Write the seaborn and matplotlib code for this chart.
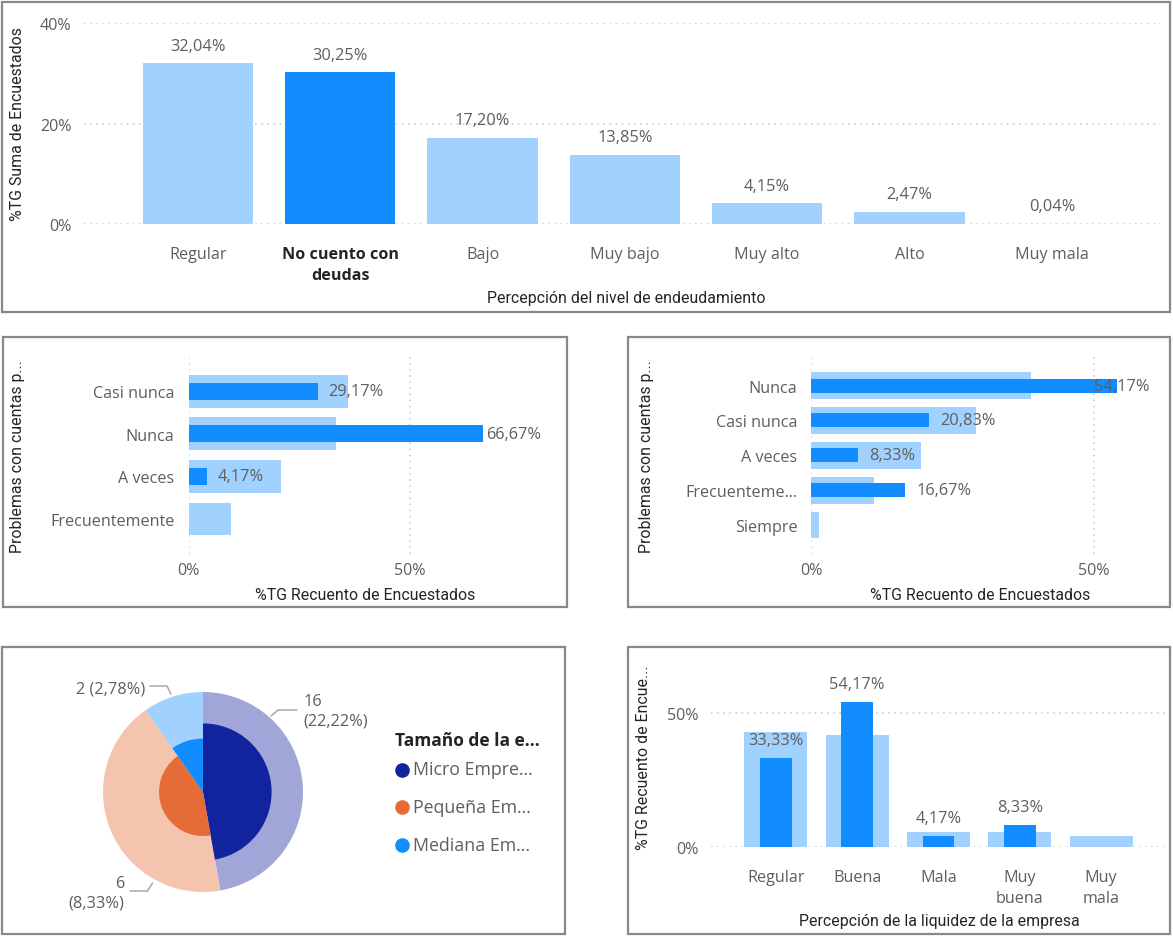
import numpy as np
import pandas as pd
import matplotlib
matplotlib.use("Agg")
import matplotlib.pyplot as plt
import seaborn as sns
from matplotlib.lines import Line2D
from matplotlib.patches import Rectangle

# ---------------- data ----------------
endeud_cats = ["Regular", "No cuento con\ndeudas", "Bajo", "Muy bajo", "Muy alto", "Alto", "Muy mala"]
endeud_vals = [32.04, 30.25, 17.20, 13.85, 4.15, 2.47, 0.04]
endeud_selected = "No cuento con\ndeudas"

prob1_cats = ["Casi nunca", "Nunca", "A veces", "Frecuentemente"]
prob1_total = [36.11, 33.33, 20.83, 9.72]
prob1_sel = [29.17, 66.67, 4.17, np.nan]

prob2_cats = ["Nunca", "Casi nunca", "A veces", "Frecuenteme...", "Siempre"]
prob2_total = [38.89, 29.17, 19.44, 11.11, 1.39]
prob2_sel = [54.17, 20.83, 8.33, 16.67, np.nan]

liq_cats = ["Regular", "Buena", "Mala", "Muy\nbuena", "Muy\nmala"]
liq_total = [43.06, 41.67, 5.56, 5.56, 4.17]
liq_sel = [33.33, 54.17, 4.17, 8.33, np.nan]

tam_cats = ["Micro Empre...", "Pequeña Em...", "Mediana Em..."]
tam_total = [34, 31, 7]
tam_sel = [16, 6, 2]
tam_count_all = 72

# ---------------- style ----------------
DARK = "#118DFF"
LIGHT = "#A0D1FF"
PIE_DARK = ["#12239E", "#E66C37", "#118DFF"]
PIE_LIGHT = ["#A0A7D8", "#F5C4AF", "#A0D1FF"]
TXT = "#605E5C"
TITLE = "#252423"
GRID = "#C8C6C4"
FONT = "Open Sans"
TFONT = "Roboto"
TICK = 11.6
VAL = 11.8
AX_T = 11.4

sns.set_theme(style="white")
plt.rcParams["font.family"] = [FONT, "DejaVu Sans"]

W, H = 1173, 937
fig = plt.figure(figsize=(W / 100, H / 100), dpi=100)


def rect(l, t, r, b):
    return [l / W, 1 - b / H, (r - l) / W, (b - t) / H]


def fx(x):
    return x / W


def fy(y):
    return 1 - y / H


def pct(v):
    return f"{v:.2f}%".replace(".", ",")


def style_axes(ax):
    for s in ax.spines.values():
        s.set_visible(False)
    ax.set_xlabel("")
    ax.set_ylabel("")
    ax.set_axisbelow(True)


def grid_kw():
    return dict(color=GRID, linestyle=(0, (1, 3)), linewidth=1.1)


BAR_KW = dict(saturation=1, errorbar=None, linewidth=0)

# panel borders
for (l, t, r, b) in [(2, 3, 1170, 313), (3, 338, 567, 608), (628, 338, 1170, 608),
                     (2, 648, 565, 935), (628, 648, 1170, 935)]:
    fig.add_artist(Rectangle((fx(l), fy(b)), (r - l) / W, (b - t) / H, transform=fig.transFigure,
                             fill=False, edgecolor="#8A8886", linewidth=1.6))

# ---------------- top chart ----------------
ax1 = fig.add_axes(rect(84, 24.3, 1160, 225))
df1 = pd.DataFrame({"cat": endeud_cats, "val": endeud_vals})
pal1 = {c: (DARK if c == endeud_selected else LIGHT) for c in endeud_cats}
sns.barplot(data=df1, x="cat", y="val", hue="cat", palette=pal1, order=endeud_cats,
            width=0.775, legend=False, ax=ax1, **BAR_KW)
style_axes(ax1)
ax1.set_xlim(-0.8, 6.76)
ax1.set_ylim(0, 40)
ax1.set_yticks([0, 20, 40])
ax1.set_yticklabels(["0%", "20%", "40%"])
ax1.yaxis.grid(True, **grid_kw())
ax1.xaxis.grid(False)
ax1.set_xticks(range(len(endeud_cats)))
ax1.set_xticklabels(endeud_cats, linespacing=1.4)
ax1.tick_params(axis="x", length=0, pad=16, labelsize=TICK, labelcolor=TXT)
ax1.tick_params(axis="y", length=0, pad=9, labelsize=TICK, labelcolor=TXT)
for lab in ax1.get_xticklabels():
    if lab.get_text() == endeud_selected:
        lab.set_fontweight("bold")
        lab.set_color(TITLE)
for i, v in enumerate(endeud_vals):
    ax1.annotate(pct(v), (i, v), xytext=(0, 12.5), textcoords="offset points",
                 ha="center", va="center", fontsize=VAL, color=TXT)
fig.text(fx(18), fy(124), "%TG Suma de Encuestados", rotation=90, ha="center", va="center",
         fontsize=AX_T, color=TITLE, family=TFONT)
fig.text(fx(626), fy(299), "Percepción del nivel de endeudamiento", ha="center", va="center",
         fontsize=AX_T, color=TITLE, family=TFONT)


# ---------------- horizontal overlay bar charts ----------------
def hbar(box, cats, total, sel, xmax, ylim, xlab_x, ylab_x):
    ax = fig.add_axes(rect(*box))
    df = pd.DataFrame({"cat": cats, "total": total, "sel": sel})
    sns.barplot(data=df, y="cat", x="total", order=cats, color=LIGHT, width=0.77,
                orient="h", ax=ax, **BAR_KW)
    sns.barplot(data=df.dropna(subset=["sel"]), y="cat", x="sel", order=cats, color=DARK,
                width=0.40, orient="h", ax=ax, **BAR_KW)
    style_axes(ax)
    ax.set_xlim(0, xmax)
    ax.set_ylim(*ylim)
    ax.set_xticks([0, 50])
    ax.set_xticklabels(["0%", "50%"])
    ax.xaxis.grid(True, **grid_kw())
    ax.yaxis.grid(False)
    ax.tick_params(axis="x", length=0, pad=6, labelsize=TICK, labelcolor=TXT)
    ax.tick_params(axis="y", length=0, pad=10, labelsize=TICK, labelcolor=TXT)
    for i, v in enumerate(sel):
        if np.isnan(v):
            continue
        if v > xmax * 0.82:
            ax.annotate(pct(v), (xmax, i), xytext=(0, 0), textcoords="offset points",
                        ha="right", va="center", fontsize=VAL, color=TXT, annotation_clip=False)
        else:
            ax.annotate(pct(v), (v, i), xytext=(8, 0), textcoords="offset points",
                        ha="left", va="center", fontsize=VAL, color=TXT)
    fig.text(fx(xlab_x), fy(595), "%TG Recuento de Encuestados", ha="center", va="center",
             fontsize=AX_T, color=TITLE, family=TFONT)
    fig.text(fx(ylab_x), fy((box[1] + box[3]) / 2), "Problemas con cuentas p...", rotation=90,
             ha="center", va="center", fontsize=AX_T, color=TITLE, family=TFONT)
    return ax


hbar((188.5, 358, 541, 555), prob1_cats, prob1_total, prob1_sel, 79.7, (3.82, -0.8), 365, 18)
hbar((811.4, 358, 1149.5, 555), prob2_cats, prob2_total, prob2_sel, 59.9, (4.83, -0.82), 980, 646)

# ---------------- bottom right: liquidity ----------------
ax4 = fig.add_axes(rect(710.7, 668, 1167, 848))
df4 = pd.DataFrame({"cat": liq_cats, "total": liq_total, "sel": liq_sel})
sns.barplot(data=df4, x="cat", y="total", order=liq_cats, color=LIGHT, width=0.775,
            ax=ax4, **BAR_KW)
sns.barplot(data=df4.dropna(subset=["sel"]), x="cat", y="sel", order=liq_cats, color=DARK,
            width=0.39, ax=ax4, **BAR_KW)
style_axes(ax4)
ax4.set_xlim(-0.8, 4.81)
ax4.set_ylim(0, 67.2)
ax4.set_yticks([0, 50])
ax4.set_yticklabels(["0%", "50%"])
ax4.yaxis.grid(True, **grid_kw())
ax4.xaxis.grid(False)
ax4.set_xticks(range(len(liq_cats)))
ax4.set_xticklabels(liq_cats, linespacing=1.4)
ax4.tick_params(axis="x", length=0, pad=16, labelsize=TICK, labelcolor=TXT)
ax4.tick_params(axis="y", length=0, pad=9, labelsize=TICK, labelcolor=TXT)
for i, v in enumerate(liq_sel):
    if np.isnan(v):
        continue
    ax4.annotate(pct(v), (i, v), xytext=(0, 13), textcoords="offset points",
                 ha="center", va="center", fontsize=VAL, color=TXT)
fig.text(fx(644), fy(758), "%TG Recuento de Encue...", rotation=90, ha="center", va="center",
         fontsize=AX_T, color=TITLE, family=TFONT)
fig.text(fx(939), fy(922), "Percepción de la liquidez de la empresa", ha="center", va="center",
         fontsize=AX_T, color=TITLE, family=TFONT)

# ---------------- bottom left: nested pie ----------------
axp = fig.add_axes(rect(93, 683, 313, 903))
axp.pie(tam_total, radius=1, colors=PIE_LIGHT, startangle=90, counterclock=False,
        wedgeprops=dict(linewidth=0))
for i in range(len(tam_cats)):
    r = np.sqrt(tam_sel[i] / tam_total[i])
    cols = [PIE_DARK[i] if j == i else (0, 0, 0, 0) for j in range(len(tam_cats))]
    axp.pie(tam_total, radius=r, colors=cols, startangle=90, counterclock=False,
            wedgeprops=dict(linewidth=0))
axp.set_xlim(-1.1, 1.1)
axp.set_ylim(-1.1, 1.1)
axp.set_aspect("equal")
axp.axis("off")

# label layout (axes data units): leader path, text anchor, alignment
pie_labels = [
    ([(0.68, 0.76), (0.75, 0.82), (0.94, 0.82)], (1.00, 0.81), "left"),
    ([(-0.505, -0.91), (-0.555, -0.99), (-0.73, -0.99)], (-0.785, -1.005), "right"),
    ([(-0.32, 0.98), (-0.36, 1.06), (-0.53, 1.06)], (-0.58, 1.04), "right"),
]
for i, (path, (tx, ty), ha) in enumerate(pie_labels):
    xs, ys = zip(*path)
    axp.plot(xs, ys, color="#A19F9D", lw=1, clip_on=False)
    v = tam_sel[i]
    share = pct(v / tam_count_all * 100)
    txt = f"{v} ({share})" if i == 2 else f"{v}\n({share})"
    axp.text(tx, ty, txt, ha=ha, va="center", fontsize=VAL, color=TXT, clip_on=False,
             linespacing=1.3)

# legend
fig.text(fx(394.6), fy(741), "Tamaño de la e...", ha="left", va="center", fontsize=12.5,
         fontweight="bold", color=TITLE)
for k, (name, col) in enumerate(zip(tam_cats, PIE_DARK)):
    yy = [770.5, 808, 845.7][k]
    fig.add_artist(Line2D([fx(402)], [fy(yy)], marker="o", markersize=9.5, color=col,
                          linestyle="none", transform=fig.transFigure))
    fig.text(fx(413), fy(yy), name, ha="left", va="center", fontsize=12.8, color=TXT)

fig.savefig("out.png", dpi=100, facecolor="white")
